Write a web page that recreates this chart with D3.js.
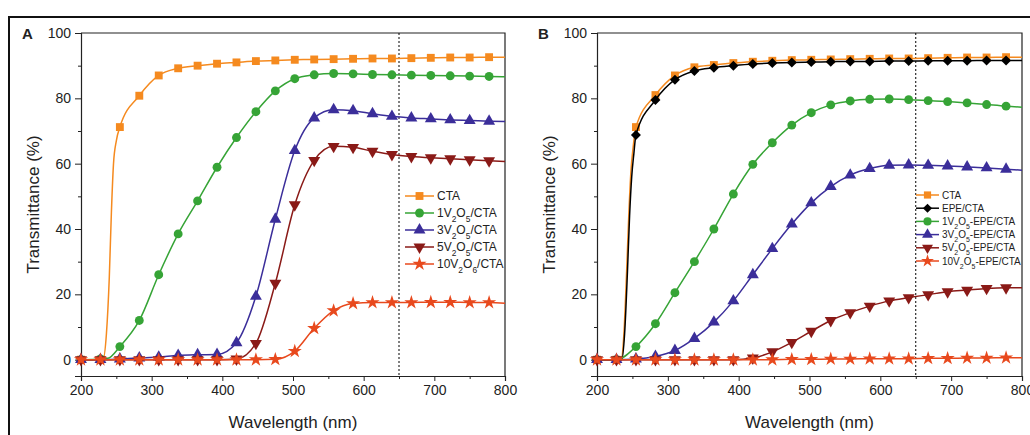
<!DOCTYPE html>
<html lang="en">
<head>
<meta charset="UTF-8">
<title>Transmittance spectra</title>
<script src="https://d3js.org/d3.v7.min.js"></script>
<style>
  body { margin: 0; background: #fff; font-family: "Liberation Sans", Arial, sans-serif; }
  svg text { font-family: "Liberation Sans", Arial, sans-serif; fill: #222; }
  .axis path, .axis line { stroke: #222; }
</style>
</head>
<body>
<div id="chart"></div>
<script>
// marker wavelengths (nm)
const markerWl = [200, 227.5, 255, 282.5, 310, 337.5, 365, 392.5, 420, 447.5, 475,
                  502.5, 530, 557.5, 585, 612.5, 640, 667.5, 695, 722.5, 750, 777.5];

const xMajor = [200, 300, 400, 500, 600, 700, 800];
const xMinor = [250, 350, 450, 550, 650, 750];
const yMajor = [0, 20, 40, 60, 80, 100];
const yMinor = [10, 30, 50, 70, 90];

// panel A
const aCTA  = [0, 0, 71.2, 80.8, 87, 89.2, 90, 90.6, 91, 91.4, 91.6, 91.8, 91.9, 92, 92.1, 92.2, 92.2, 92.3, 92.4, 92.5, 92.5, 92.6];
const aV1   = [0, 0.2, 4, 12, 26, 38.5, 48.6, 58.9, 68, 75.9, 82.3, 86, 87.2, 87.6, 87.5, 87.3, 87.2, 87.1, 87, 86.9, 86.8, 86.7];
const aV3   = [0, 0, 0.2, 0.5, 0.8, 1.3, 1.5, 1.6, 5.2, 19.4, 43, 64, 74, 76.5, 76.2, 75.3, 74.5, 74, 73.7, 73.4, 73.2, 73];
const aV5   = [0, 0, 0, 0, 0, 0, 0, 0, 0.2, 5, 23.4, 47.4, 61, 65.3, 65, 63.8, 62.8, 62.2, 61.8, 61.5, 61.2, 60.9];
const aV10  = [0, 0, 0, 0, 0, 0, 0, 0, 0, 0, 0.1, 2.6, 9.6, 15, 17.2, 17.5, 17.5, 17.5, 17.6, 17.6, 17.5, 17.5];
// extra line points between markers (wavelength, %)
const aCTAx = [[231, 0], [236, 8], [240, 25], [243, 45], [246, 60], [250, 67], [800, 92.6]];
const aV1x  = [[238, 0.4], [800, 86.6]];
const aV3x  = [[800, 72.9]];
const aV5x  = [[800, 60.7]];
const aV10x = [[800, 17.3]];

// panel B
const bCTA  = [0, 0, 71.2, 81, 87, 89.5, 90.2, 90.8, 91.2, 91.5, 91.7, 91.8, 91.9, 92, 92.1, 92.2, 92.2, 92.3, 92.4, 92.5, 92.5, 92.6];
const bEPE  = [0, 0, 68.8, 79.5, 85.7, 88.4, 89.4, 90, 90.5, 90.8, 91, 91.1, 91.2, 91.3, 91.3, 91.4, 91.4, 91.5, 91.5, 91.5, 91.6, 91.6];
const bV1   = [0, 0, 4, 11, 20.5, 30, 40, 50.7, 59.8, 66.4, 71.8, 75.6, 78, 79.2, 79.7, 79.8, 79.6, 79.3, 79, 78.6, 78.1, 77.6];
const bV3   = [0, 0, 0.2, 1, 2.8, 6.5, 11.5, 18, 26, 34, 41.5, 48, 53, 56.5, 58.5, 59.5, 59.6, 59.5, 59.3, 59, 58.7, 58.3];
const bV5   = [0, 0, 0, 0, 0, 0, 0, 0, 0.5, 2.4, 5.3, 8.7, 12, 14.4, 16.4, 18, 19, 19.9, 20.8, 21.3, 21.8, 22];
const bV10  = [0, 0, 0, 0, 0, 0, 0, 0, 0, 0, 0.1, 0.1, 0.2, 0.2, 0.3, 0.3, 0.3, 0.4, 0.4, 0.5, 0.5, 0.6];
const bCTAx = [[234, 0], [238, 8], [242, 28], [245, 45], [248, 58], [251, 65], [800, 92.6]];
const bEPEx = [[235, 0], [239, 8], [243, 27], [246, 44], [249, 56], [252, 63], [800, 91.6]];
const bV1x  = [[800, 77.3]];
const bV3x  = [[800, 58]];
const bV5x  = [[800, 22]];
const bV10x = [[800, 0.6]];

const ORANGE = "#f58a1f", GREEN = "#36a436", BLUE = "#3b2e9a", DRED = "#8a1a17", RED = "#e8491d";

const panels = [
  { label: "A", x0: 81, x1: 505, fontLeg: 12, legX: 405, legLine: 29, legY: 196, legDy: 17,
    series: [
      { name: "CTA", vals: aCTA, extra: aCTAx, color: ORANGE, sym: "square" },
      { name: "1V_2O_5/CTA", vals: aV1, extra: aV1x, color: GREEN, sym: "circle" },
      { name: "3V_2O_5/CTA", vals: aV3, extra: aV3x, color: BLUE, sym: "tri" },
      { name: "5V_2O_5/CTA", vals: aV5, extra: aV5x, color: DRED, sym: "tridown" },
      { name: "10V_2O_6/CTA", vals: aV10, extra: aV10x, color: RED, sym: "star" }
    ] },
  { label: "B", x0: 597, x1: 1022, fontLeg: 10, legX: 916, legLine: 23, legY: 195, legDy: 13.2,
    series: [
      { name: "CTA", vals: bCTA, extra: bCTAx, color: ORANGE, sym: "square" },
      { name: "EPE/CTA", vals: bEPE, extra: bEPEx, color: "#000", sym: "diamond" },
      { name: "1V_2O_5-EPE/CTA", vals: bV1, extra: bV1x, color: GREEN, sym: "circle" },
      { name: "3V_2O_5-EPE/CTA", vals: bV3, extra: bV3x, color: BLUE, sym: "tri" },
      { name: "5V_2O_5-EPE/CTA", vals: bV5, extra: bV5x, color: DRED, sym: "tridown" },
      { name: "10V_2O_5-EPE/CTA", vals: bV10, extra: bV10x, color: RED, sym: "star" }
    ] }
];

const W = 1030, H = 435, plotTop = 33, plotBottom = 376;

const svg = d3.select("#chart").append("svg")
  .attr("width", W).attr("height", H);

// outer frame
svg.append("path")
  .attr("d", `M9,${H} V17 H${W}`)
  .attr("fill", "none").attr("stroke", "#111").attr("stroke-width", 2);

const symbols = {
  square:  { type: d3.symbolSquare, size: 62, rot: 0 },
  circle:  { type: d3.symbolCircle, size: 62, rot: 0 },
  tri:     { type: d3.symbolTriangle, size: 62, rot: 0 },
  tridown: { type: d3.symbolTriangle, size: 62, rot: 180 },
  star:    { type: d3.symbolStar, size: 62, rot: 0 },
  diamond: { type: d3.symbolSquare, size: 50, rot: 45 }
};

function drawLabel(sel, name) {
  // "_x" marks a subscript character
  const parts = name.split(/(_.)/).filter(s => s.length);
  parts.forEach(p => {
    if (p[0] === "_") {
      sel.append("tspan").attr("baseline-shift", "sub").attr("font-size", "70%").text(p[1]);
    } else {
      sel.append("tspan").text(p);
    }
  });
}

panels.forEach(p => {
  const x = d3.scaleLinear().domain([200, 800]).range([p.x0, p.x1]);
  const y = d3.scaleLinear().domain([-5, 100]).range([plotBottom, plotTop]);
  const g = svg.append("g");

  // x axis
  g.append("g").attr("class", "axis")
    .attr("transform", `translate(0,${plotBottom})`)
    .call(d3.axisBottom(x).tickValues(xMajor).tickSize(5).tickPadding(4))
    .call(a => a.selectAll("text").attr("font-size", 14).attr("fill", "#222"))
    .call(a => a.select(".domain").attr("stroke-width", 1.2));
  g.append("g").attr("class", "axis")
    .attr("transform", `translate(0,${plotBottom})`)
    .call(d3.axisBottom(x).tickValues(xMinor).tickSize(3).tickFormat(""))
    .call(a => a.select(".domain").remove());

  // y axis
  g.append("g").attr("class", "axis")
    .attr("transform", `translate(${p.x0},0)`)
    .call(d3.axisLeft(y).tickValues(yMajor).tickSize(6).tickPadding(4))
    .call(a => a.selectAll("text").attr("font-size", 14).attr("fill", "#222"))
    .call(a => a.select(".domain").attr("stroke-width", 1.2));
  g.append("g").attr("class", "axis")
    .attr("transform", `translate(${p.x0},0)`)
    .call(d3.axisLeft(y).tickValues(yMinor).tickSize(3).tickFormat(""))
    .call(a => a.select(".domain").remove());

  // top and right borders
  g.append("path")
    .attr("d", `M${p.x0},${plotTop} H${p.x1} V${plotBottom}`)
    .attr("fill", "none").attr("stroke", "#222").attr("stroke-width", 1.2);

  // 650 nm dotted marker
  g.append("line")
    .attr("x1", x(650)).attr("x2", x(650)).attr("y1", plotTop).attr("y2", plotBottom)
    .attr("stroke", "#000").attr("stroke-width", 1).attr("stroke-dasharray", "2,2");

  // titles
  g.append("text")
    .attr("x", (p.x0 + p.x1) / 2).attr("y", 428)
    .attr("text-anchor", "middle").attr("font-size", 17)
    .text("Wavelength (nm)");
  g.append("text")
    .attr("transform", `translate(${p.x0 - 42},${(plotTop + plotBottom) / 2}) rotate(-90)`)
    .attr("text-anchor", "middle").attr("font-size", 17)
    .text("Transmittance (%)");
  g.append("text")
    .attr("x", p.x0 - 59).attr("y", 39)
    .attr("font-size", 15).attr("font-weight", "bold").attr("fill", "#111")
    .text(p.label);

  const line = d3.line()
    .x(d => x(d[0])).y(d => y(d[1]))
    .curve(d3.curveMonotoneX);

  p.series.forEach(s => {
    const pts = markerWl.map((w, i) => [w, s.vals[i]]);
    const linePts = pts.concat(s.extra).sort((a, b) => a[0] - b[0]);
    const sym = symbols[s.sym];
    g.append("path")
      .datum(linePts)
      .attr("fill", "none").attr("stroke", s.color).attr("stroke-width", 1.5)
      .attr("d", line);
    g.append("g").selectAll("path")
      .data(pts)
      .join("path")
      .attr("transform", d => `translate(${x(d[0])},${y(d[1])}) rotate(${sym.rot})`)
      .attr("d", d3.symbol().type(sym.type).size(sym.size))
      .attr("fill", s.color);
  });

  // legend
  const leg = g.append("g");
  p.series.forEach((s, i) => {
    const ly = p.legY + i * p.legDy;
    const sym = symbols[s.sym];
    leg.append("line")
      .attr("x1", p.legX).attr("x2", p.legX + p.legLine)
      .attr("y1", ly).attr("y2", ly)
      .attr("stroke", s.color).attr("stroke-width", 1.5);
    leg.append("path")
      .attr("transform", `translate(${p.legX + p.legLine / 2},${ly}) rotate(${sym.rot})`)
      .attr("d", d3.symbol().type(sym.type).size(sym.size * (p.fontLeg / 12)))
      .attr("fill", s.color);
    const t = leg.append("text")
      .attr("x", p.legX + p.legLine + 3).attr("y", ly)
      .attr("dy", "0.35em").attr("font-size", p.fontLeg);
    drawLabel(t, s.name);
  });
});
</script>
</body>
</html>
